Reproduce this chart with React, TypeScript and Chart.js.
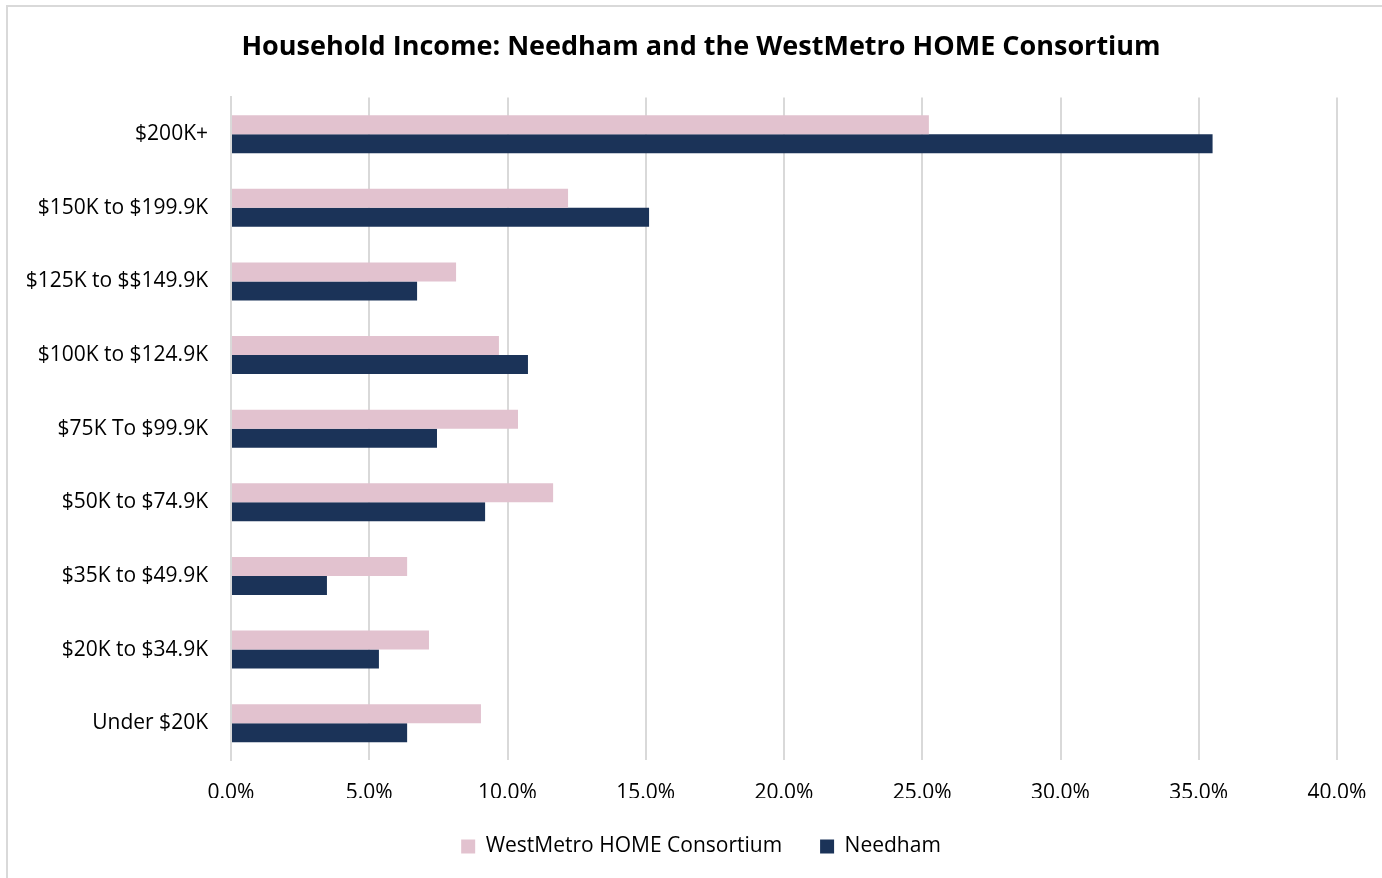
import React, { useEffect, useRef } from "react";
import { Chart, registerables } from "chart.js";

Chart.register(...registerables);

const categories = [
  "$200K+",
  "$150K to $199.9K",
  "$125K to $$149.9K",
  "$100K to $124.9K",
  "$75K To $99.9K",
  "$50K to $74.9K",
  "$35K to $49.9K",
  "$20K to $34.9K",
  "Under $20K",
];
const westMetro = [25.24, 12.19, 8.14, 9.69, 10.38, 11.65, 6.37, 7.16, 9.04];
const needham = [35.5, 15.12, 6.73, 10.74, 7.45, 9.19, 3.47, 5.35, 6.37];
const seriesNames = ["WestMetro HOME Consortium", "Needham"];
const titleText = "Household Income: Needham and the WestMetro HOME Consortium";

const FONT = "'Open Sans', sans-serif";

export default function App() {
  const ref = useRef<HTMLCanvasElement | null>(null);
  useEffect(() => {
    document.body.style.margin = "0";
    const ctx = ref.current!.getContext("2d")!;
    const chart = new Chart(ctx, {
      type: "bar",
      data: {
        labels: categories,
        datasets: [
          {
            label: seriesNames[0],
            data: westMetro,
            backgroundColor: "#E2C2CF",
            categoryPercentage: 0.517,
            barPercentage: 1,
          },
          {
            label: seriesNames[1],
            data: needham,
            backgroundColor: "#1B3358",
            categoryPercentage: 0.517,
            barPercentage: 1,
          },
        ],
      },
      options: {
        indexAxis: "y",
        animation: false,
        responsive: false,
        maintainAspectRatio: false,
        layout: { padding: { left: 20, right: 0, top: 31, bottom: 11 } },
        plugins: {
          title: {
            display: true,
            text: titleText,
            color: "#000",
            font: { family: FONT, size: 27, weight: "bold" },
            padding: { top: 0, bottom: 34 },
          },
          legend: {
            position: "bottom",
            labels: {
              color: "#000",
              font: { family: FONT, size: 21 },
              boxWidth: 14,
              boxHeight: 14,
              padding: 38,
            },
          },
          tooltip: { enabled: false },
        },
        scales: {
          x: {
            min: 0,
            max: 40,
            afterFit: (scale: any) => {
              scale.paddingRight = 45;
              scale.height = 38;
            },
            ticks: {
              stepSize: 5,
              color: "#000",
              font: { family: FONT, size: 21 },
              padding: 20,
              maxRotation: 0,
              callback: (v: any) => Number(v).toFixed(1) + "%",
            },
            grid: { color: "#D9D9D9", lineWidth: 2, drawTicks: false },
            border: { display: false },
          },
          y: {
            afterFit: (scale: any) => {
              scale.width = 211;
            },
            ticks: {
              color: "#000",
              font: { family: FONT, size: 21 },
              padding: 23,
            },
            grid: { display: false, drawTicks: false },
            border: { display: true, color: "#D9D9D9", width: 2 },
          },
        },
      },
    });
    return () => chart.destroy();
  }, []);
  return (
    <div style={{ position: "fixed", left: 0, top: 0, width: 1382, height: 878, overflow: "hidden", background: "#fff" }}>
      <div style={{ position: "absolute", left: 6, top: 5, width: 1400, height: 900, border: "2px solid #D9D9D9" }} />
      <canvas ref={ref} width={1382} height={878} style={{ position: "absolute", left: 0, top: 0 }} />
    </div>
  );
}
